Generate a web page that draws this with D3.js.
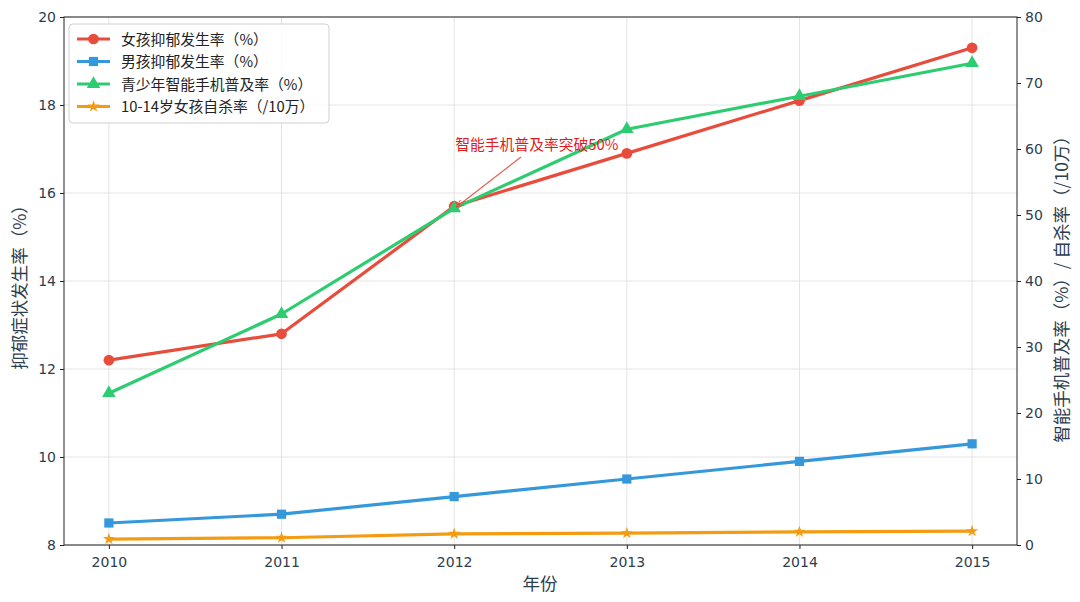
<!DOCTYPE html>
<html><head><meta charset="utf-8">
<script src="https://cdn.jsdelivr.net/npm/d3@7"></script>
<style>
body{margin:0;background:#fff;}
text{font-family:"DejaVu Sans","Noto Sans CJK SC",sans-serif;}
.cjk{font-family:"Noto Sans CJK SC","DejaVu Sans",sans-serif;}
</style></head>
<body><svg id="c" width="1080" height="602"></svg>
<script>
const years = [2010, 2011, 2012, 2013, 2014, 2015];
const girlsDepression = [12.2, 12.8, 15.7, 16.9, 18.1, 19.3];
const boysDepression = [8.5, 8.7, 9.1, 9.5, 9.9, 10.3];
const smartphoneRate = [23, 35, 51, 63, 68, 73];
const girlSuicide = [0.9, 1.1, 1.7, 1.8, 2.0, 2.1];
const leftTicks = [8, 10, 12, 14, 16, 18, 20];
const rightTicks = [0, 10, 20, 30, 40, 50, 60, 70, 80];
const seriesNames = ["女孩抑郁发生率（%）", "男孩抑郁发生率（%）", "青少年智能手机普及率（%）", "10-14岁女孩自杀率（/10万）"];

const svg = d3.select("#c");
const L = 64, R = 1017, T = 17, B = 545;
const x = d3.scaleLinear().domain([2009.74, 2015.26]).range([L, R]);
const yL = d3.scaleLinear().domain([8, 20]).range([B, T]);
const yR = d3.scaleLinear().domain([0, 80]).range([B, T]);
const tc = "#2c3e50";

// grid
svg.append("g").selectAll("line").data(years).join("line")
  .attr("x1", d => x(d)).attr("x2", d => x(d)).attr("y1", T).attr("y2", B)
  .attr("stroke", "#e3e3e3").attr("stroke-width", 1);
svg.append("g").selectAll("line").data(leftTicks).join("line")
  .attr("x1", L).attr("x2", R).attr("y1", d => yL(d)).attr("y2", d => yL(d))
  .attr("stroke", "#e3e3e3").attr("stroke-width", 1);

// axes
const ax = svg.append("g").attr("transform", `translate(0,${B})`)
  .call(d3.axisBottom(x).tickValues(years).tickFormat(d3.format("d")).tickSizeOuter(0).tickSize(4));
const ayl = svg.append("g").attr("transform", `translate(${L},0)`)
  .call(d3.axisLeft(yL).tickValues(leftTicks).tickSizeOuter(0).tickSize(4));
const ayr = svg.append("g").attr("transform", `translate(${R},0)`)
  .call(d3.axisRight(yR).tickValues(rightTicks).tickSizeOuter(0).tickSize(4));
[ax, ayl, ayr].forEach(g => {
  g.select(".domain").remove();
  g.selectAll("text").attr("font-size", 14).attr("fill", tc).attr("font-family", "DejaVu Sans");
  g.selectAll("line").attr("stroke", "#222");
});
ax.selectAll("text").attr("dy", "1.05em");
ayl.selectAll("text").attr("x", -8);
ayr.selectAll("text").attr("x", 8);
svg.append("rect").attr("x", L).attr("y", T).attr("width", R - L).attr("height", B - T)
  .attr("fill", "none").attr("stroke", "#222").attr("stroke-width", 1);

// labels
svg.append("text").attr("class", "cjk").attr("x", 540).attr("y", 590).attr("text-anchor", "middle")
  .attr("font-size", 17.5).attr("fill", tc).text("年份");
svg.append("text").attr("class", "cjk").attr("transform", "translate(26,283) rotate(-90)")
  .attr("text-anchor", "middle").attr("font-size", 17.5).attr("fill", tc).text("抑郁症状发生率（%）");
svg.append("text").attr("class", "cjk").attr("transform", "translate(1068,285) rotate(-90)")
  .attr("text-anchor", "middle").attr("font-size", 17.5).attr("fill", tc).text("智能手机普及率（%）/ 自杀率（/10万）");

const series = [
  {vals: girlsDepression, y: yL, color: "#e74c3c", sym: d3.symbolCircle, size: 90},
  {vals: boysDepression, y: yL, color: "#3498db", sym: d3.symbolSquare, size: 85},
  {vals: smartphoneRate, y: yR, color: "#2ecc71", sym: d3.symbolTriangle, size: 80},
  {vals: girlSuicide, y: yR, color: "#f39c12", sym: d3.symbolStar, size: 45}
];
series.forEach(s => {
  const line = d3.line().x((d, i) => x(years[i])).y(d => s.y(d));
  svg.append("path").datum(s.vals).attr("d", line).attr("fill", "none")
    .attr("stroke", s.color).attr("stroke-width", 3.2).attr("stroke-linejoin", "round");
  svg.append("g").selectAll("path").data(s.vals).join("path")
    .attr("transform", (d, i) => `translate(${x(years[i])},${s.y(d)})`)
    .attr("d", d3.symbol().type(s.sym).size(s.size)).attr("fill", s.color);
});

// annotation
svg.append("defs").append("marker").attr("id", "ah").attr("viewBox", "0 0 10 10")
  .attr("refX", 10).attr("refY", 5).attr("markerWidth", 8).attr("markerHeight", 8)
  .attr("orient", "auto").attr("markerUnits", "userSpaceOnUse")
  .append("path").attr("d", "M0,1 L10,5 L0,9").attr("fill", "none").attr("stroke", "#e74c3c").attr("stroke-width", 1.2);
svg.append("line").attr("x1", 521).attr("y1", 157).attr("x2", x(2012) + 2).attr("y2", yL(15.7) + 1)
  .attr("stroke", "#e74c3c").attr("stroke-width", 1.2).attr("opacity", 0.9).attr("marker-end", "url(#ah)");
svg.append("text").attr("class", "cjk").attr("x", x(2012) + 1).attr("y", yL(17) + 1)
  .attr("font-size", 14.8).attr("fill", "#e31a1c").text("智能手机普及率突破50%");

// legend
const lg = svg.append("g");
lg.append("rect").attr("x", 69).attr("y", 24).attr("width", 260).attr("height", 99).attr("rx", 4)
  .attr("fill", "#fff").attr("fill-opacity", 0.85).attr("stroke", "#d0d0d0");
series.forEach((s, i) => {
  const yy = 39 + i * 22.5;
  lg.append("line").attr("x1", 77).attr("x2", 110).attr("y1", yy).attr("y2", yy)
    .attr("stroke", s.color).attr("stroke-width", 3.2);
  lg.append("path").attr("transform", `translate(93.5,${yy})`)
    .attr("d", d3.symbol().type(s.sym).size(s.size)).attr("fill", s.color);
  lg.append("text").attr("class", "cjk").attr("x", 121).attr("y", yy + 5.5)
    .attr("font-size", 14.8).attr("fill", "#222").text(seriesNames[i]);
});
</script></body></html>
